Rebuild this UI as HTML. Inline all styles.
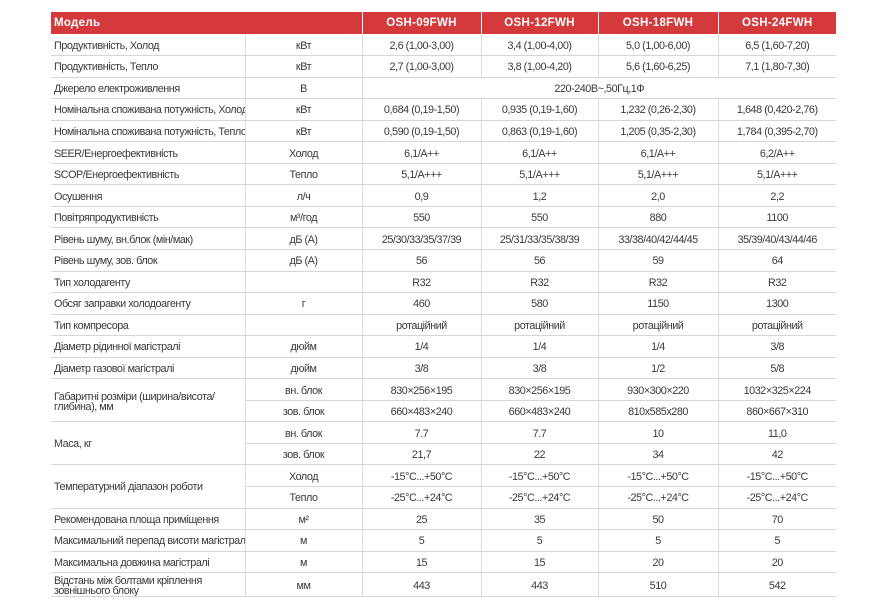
<!DOCTYPE html>
<html><head><meta charset="utf-8">
<style>
html,body{margin:0;padding:0;background:#fff;width:888px;height:613px;overflow:hidden}
table{position:absolute;left:51px;top:12px;border-collapse:collapse;table-layout:fixed;width:785px;
font-family:"Liberation Sans",sans-serif;font-size:10.8px;color:#3a3a3a;letter-spacing:-0.45px}
td{padding:3px 0 0 0;border-bottom:1.5px solid #d6d6d6;border-left:1px solid #dcdcdc;text-align:center;white-space:nowrap;overflow:hidden;line-height:11px;box-sizing:border-box;height:21.55px;vertical-align:middle}
td.l{text-align:left;padding-left:3px;border-left:none}
tr.h td{background:#d43a3c;color:#fff;font-weight:bold;font-size:11.5px;letter-spacing:0.3px;height:22px;border-bottom:none;border-left:1.5px solid #fff;padding-top:0}
tr.h td.l{border-left:none}
</style></head><body>
<table>
<colgroup><col style="width:194px"><col style="width:117px"><col style="width:119px"><col style="width:117px"><col style="width:120px"><col style="width:118px"></colgroup>
<tr class="h"><td class="l" colspan="2">Модель</td><td>OSH-09FWH</td><td>OSH-12FWH</td><td>OSH-18FWH</td><td>OSH-24FWH</td></tr>
<tr><td class="l">Продуктивність, Холод</td><td>кВт</td><td>2,6 (1,00-3,00)</td><td>3,4 (1,00-4,00)</td><td>5,0 (1,00-6,00)</td><td>6,5 (1,60-7,20)</td></tr>
<tr><td class="l">Продуктивність, Тепло</td><td>кВт</td><td>2,7 (1,00-3,00)</td><td>3,8 (1,00-4,20)</td><td>5,6 (1,60-6,25)</td><td>7,1 (1,80-7,30)</td></tr>
<tr><td class="l">Джерело електроживлення</td><td>В</td><td colspan="4">220-240В~,50Гц,1Ф</td></tr>
<tr><td class="l">Номінальна споживана потужність, Холод</td><td>кВт</td><td>0,684 (0,19-1,50)</td><td>0,935 (0,19-1,60)</td><td>1,232 (0,26-2,30)</td><td>1,648 (0,420-2,76)</td></tr>
<tr><td class="l">Номінальна споживана потужність, Тепло</td><td>кВт</td><td>0,590 (0,19-1,50)</td><td>0,863 (0,19-1,60)</td><td>1,205 (0,35-2,30)</td><td>1,784 (0,395-2,70)</td></tr>
<tr><td class="l">SEER/Енергоефективність</td><td>Холод</td><td>6,1/A++</td><td>6,1/A++</td><td>6,1/A++</td><td>6,2/A++</td></tr>
<tr><td class="l">SCOP/Енергоефективність</td><td>Тепло</td><td>5,1/A+++</td><td>5,1/A+++</td><td>5,1/A+++</td><td>5,1/A+++</td></tr>
<tr><td class="l">Осушення</td><td>л/ч</td><td>0,9</td><td>1,2</td><td>2,0</td><td>2,2</td></tr>
<tr><td class="l">Повітряпродуктивність</td><td>м³/год</td><td>550</td><td>550</td><td>880</td><td>1100</td></tr>
<tr><td class="l">Рівень шуму, вн.блок (мін/мак)</td><td>дБ (А)</td><td>25/30/33/35/37/39</td><td>25/31/33/35/38/39</td><td>33/38/40/42/44/45</td><td>35/39/40/43/44/46</td></tr>
<tr><td class="l">Рівень шуму, зов. блок</td><td>дБ (А)</td><td>56</td><td>56</td><td>59</td><td>64</td></tr>
<tr><td class="l">Тип холодагенту</td><td></td><td>R32</td><td>R32</td><td>R32</td><td>R32</td></tr>
<tr><td class="l">Обсяг заправки холодоагенту</td><td>г</td><td>460</td><td>580</td><td>1150</td><td>1300</td></tr>
<tr><td class="l">Тип компресора</td><td></td><td>ротаційний</td><td>ротаційний</td><td>ротаційний</td><td>ротаційний</td></tr>
<tr><td class="l">Діаметр рідинної магістралі</td><td>дюйм</td><td>1/4</td><td>1/4</td><td>1/4</td><td>3/8</td></tr>
<tr><td class="l">Діаметр газової магістралі</td><td>дюйм</td><td>3/8</td><td>3/8</td><td>1/2</td><td>5/8</td></tr>
<tr><td class="l" rowspan="2" style="white-space:normal;line-height:10px">Габаритні розміри (ширина/висота/<br>глибина), мм</td><td>вн. блок</td><td>830×256×195</td><td>830×256×195</td><td>930×300×220</td><td>1032×325×224</td></tr>
<tr><td>зов. блок</td><td>660×483×240</td><td>660×483×240</td><td>810x585x280</td><td>860×667×310</td></tr>
<tr><td class="l" rowspan="2">Маса, кг</td><td>вн. блок</td><td>7.7</td><td>7.7</td><td>10</td><td>11,0</td></tr>
<tr><td>зов. блок</td><td>21,7</td><td>22</td><td>34</td><td>42</td></tr>
<tr><td class="l" rowspan="2">Температурний діапазон роботи</td><td>Холод</td><td>-15°C...+50°C</td><td>-15°C...+50°C</td><td>-15°C...+50°C</td><td>-15°C...+50°C</td></tr>
<tr><td>Тепло</td><td>-25°C...+24°C</td><td>-25°C...+24°C</td><td>-25°C...+24°C</td><td>-25°C...+24°C</td></tr>
<tr><td class="l">Рекомендована площа приміщення</td><td>м²</td><td>25</td><td>35</td><td>50</td><td>70</td></tr>
<tr><td class="l">Максимальний перепад висоти магістралі</td><td>м</td><td>5</td><td>5</td><td>5</td><td>5</td></tr>
<tr><td class="l">Максимальна довжина магістралі</td><td>м</td><td>15</td><td>15</td><td>20</td><td>20</td></tr>
<tr><td class="l" style="line-height:10px">Відстань між болтами кріплення<br>зовнішнього блоку</td><td>мм</td><td>443</td><td>443</td><td>510</td><td>542</td></tr>
</table>
</body></html>
